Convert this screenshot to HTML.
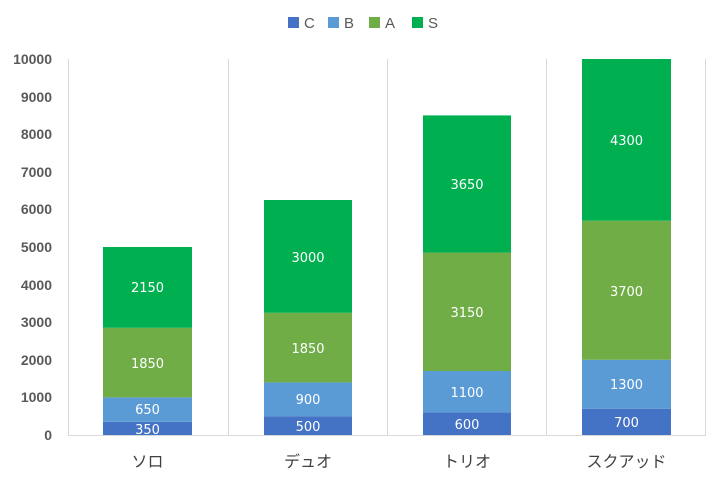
<!DOCTYPE html>
<html><head><meta charset="utf-8"><style>body{margin:0;background:#fff}</style></head><body>
<svg width="720" height="480" xmlns="http://www.w3.org/2000/svg" font-family="'Liberation Sans','Noto Sans CJK JP',sans-serif">
<rect width="720" height="480" fill="#fff"/>
<g stroke="#d9d9d9" stroke-width="1">
<line x1="68.5" y1="59" x2="68.5" y2="435"/>
<line x1="228.5" y1="59" x2="228.5" y2="435"/>
<line x1="387.5" y1="59" x2="387.5" y2="435"/>
<line x1="546.5" y1="59" x2="546.5" y2="435"/>
<line x1="705.5" y1="59" x2="705.5" y2="435"/>
<line x1="68" y1="435.5" x2="706" y2="435.5"/>
</g>
<g font-size="14" font-weight="bold" fill="#595959" text-anchor="end">
<text x="52" y="440">0</text><text x="52" y="402">1000</text><text x="52" y="365">2000</text><text x="52" y="327">3000</text><text x="52" y="290">4000</text><text x="52" y="252">5000</text><text x="52" y="214">6000</text><text x="52" y="177">7000</text><text x="52" y="139">8000</text><text x="52" y="102">9000</text><text x="52" y="64">10000</text>
</g>
<g>
<rect x="103" y="421.8" width="89" height="13.2" fill="#4472C4"/>
<rect x="103" y="397.4" width="89" height="24.4" fill="#5B9BD5"/>
<rect x="103" y="327.8" width="89" height="69.6" fill="#70AD47"/>
<rect x="103" y="247" width="89" height="80.8" fill="#00B050"/>
<rect x="264" y="416.2" width="88" height="18.8" fill="#4472C4"/>
<rect x="264" y="382.4" width="88" height="33.8" fill="#5B9BD5"/>
<rect x="264" y="312.8" width="88" height="69.6" fill="#70AD47"/>
<rect x="264" y="200" width="88" height="112.8" fill="#00B050"/>
<rect x="423" y="412.4" width="88" height="22.6" fill="#4472C4"/>
<rect x="423" y="371" width="88" height="41.4" fill="#5B9BD5"/>
<rect x="423" y="252.6" width="88" height="118.4" fill="#70AD47"/>
<rect x="423" y="115.4" width="88" height="137.2" fill="#00B050"/>
<rect x="582" y="408.7" width="89" height="26.3" fill="#4472C4"/>
<rect x="582" y="359.8" width="89" height="48.9" fill="#5B9BD5"/>
<rect x="582" y="220.7" width="89" height="139.1" fill="#70AD47"/>
<rect x="582" y="59" width="89" height="161.7" fill="#00B050"/>
</g>
<g font-size="13" fill="#fff" text-anchor="middle" font-family="'DejaVu Sans',sans-serif">
<text x="147.5" y="434">350</text><text x="147.5" y="414">650</text><text x="147.5" y="368">1850</text><text x="147.5" y="292">2150</text>
<text x="308" y="431">500</text><text x="308" y="404">900</text><text x="308" y="353">1850</text><text x="308" y="262">3000</text>
<text x="467" y="429">600</text><text x="467" y="397">1100</text><text x="467" y="317">3150</text><text x="467" y="189">3650</text>
<text x="626.5" y="427">700</text><text x="626.5" y="389">1300</text><text x="626.5" y="296">3700</text><text x="626.5" y="145">4300</text>
</g>
<g font-size="16" fill="#404040" text-anchor="middle">
<text x="147.5" y="467">ソロ</text><text x="308" y="467">デュオ</text><text x="467" y="467">トリオ</text><text x="626.5" y="467">スクアッド</text>
</g>
<g font-size="15" fill="#595959">
<rect x="288" y="17" width="11" height="11" fill="#4472C4"/><text x="304" y="28">C</text>
<rect x="328" y="17" width="11" height="11" fill="#5B9BD5"/><text x="344" y="28">B</text>
<rect x="369" y="17" width="11" height="11" fill="#70AD47"/><text x="385" y="28">A</text>
<rect x="412" y="17" width="11" height="11" fill="#00B050"/><text x="428" y="28">S</text>
</g>
</svg>
</body></html>
